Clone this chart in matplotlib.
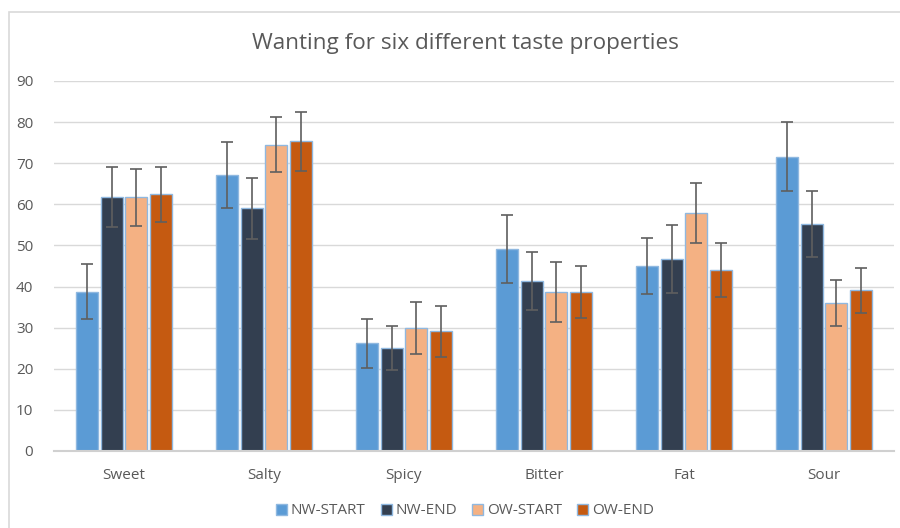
import matplotlib
matplotlib.use("Agg")
import matplotlib.pyplot as plt
import numpy as np
from matplotlib.patches import Rectangle

categories = ["Sweet", "Salty", "Spicy", "Bitter", "Fat", "Sour"]
series_names = ["NW-START", "NW-END", "OW-START", "OW-END"]
nw_start = [38.7, 67.1, 26.2, 49.1, 45.1, 71.6]
nw_end = [61.9, 59.0, 25.0, 41.4, 46.7, 55.3]
ow_start = [61.7, 74.5, 29.9, 38.7, 57.9, 36.0]
ow_end = [62.4, 75.3, 29.1, 38.6, 44.1, 39.1]
nw_start_err = [6.7, 8.1, 6.0, 8.2, 6.8, 8.4]
nw_end_err = [7.3, 7.5, 5.4, 7.0, 8.2, 8.0]
ow_start_err = [7.0, 6.7, 6.3, 7.2, 7.3, 5.6]
ow_end_err = [6.7, 7.1, 6.2, 6.3, 6.6, 5.5]
yticks = [0, 10, 20, 30, 40, 50, 60, 70, 80, 90]

values = [nw_start, nw_end, ow_start, ow_end]
errors = [nw_start_err, nw_end_err, ow_start_err, ow_end_err]
colors = ["#5B9BD5", "#333F50", "#F4B183", "#C55A11"]

plt.rcParams['font.family'] = ['Open Sans', 'DejaVu Sans']

fig = plt.figure(figsize=(9, 5.28), dpi=100)
W, H = 900, 528
ax = fig.add_axes([54 / W, 1 - 451 / H, (894 - 54) / W, (451 - 81) / H])

x = np.arange(len(categories))
slot = 0.175
bw = 0.155
for i, (vals, errs, c) in enumerate(zip(values, errors, colors)):
    pos = x + (i - 1.5) * slot
    ax.bar(pos, vals, width=bw, color=c, edgecolor="#8FB8E0", linewidth=1.0,
           label=series_names[i], zorder=2)
    ax.errorbar(pos, vals, yerr=errs, fmt="none", ecolor="#5F5F5F",
                elinewidth=1.2, capsize=4, capthick=1.2, zorder=3)

ax.set_xlim(-0.5, len(categories) - 0.5)
ax.set_ylim(0, 90)
ax.set_yticks(yticks)
ax.set_xticks(x)
ax.set_xticklabels(categories)
ax.yaxis.grid(True, color="#D9D9D9", linewidth=1.0, zorder=0)
ax.set_axisbelow(True)
for s in ["top", "right", "left"]:
    ax.spines[s].set_visible(False)
ax.spines["bottom"].set_color("#D0D0D0")
ax.spines["bottom"].set_linewidth(1.5)
ax.tick_params(axis="both", length=0, labelsize=11, colors="#595959")
ax.tick_params(axis="y", pad=15)
ax.tick_params(axis="x", pad=12)

fig.text(465 / W, 1 - 44 / H, "Wanting for six different taste properties",
         ha="center", va="center", fontsize=16.2, color="#595959")

leg = fig.legend(loc="center", bbox_to_anchor=(465 / W, 1 - 511 / H), ncol=4,
                 frameon=False, fontsize=11, handlelength=0.7, handleheight=0.7,
                 columnspacing=1.0, handletextpad=0.25)
for t in leg.get_texts():
    t.set_color("#595959")

fig.patches.append(Rectangle((8.5 / W, -0.1), 1.2, 1 - 12 / H + 0.1,
                             transform=fig.transFigure, fill=False,
                             edgecolor="#D9D9D9", linewidth=1.2))

fig.savefig("out.png", dpi=100)
